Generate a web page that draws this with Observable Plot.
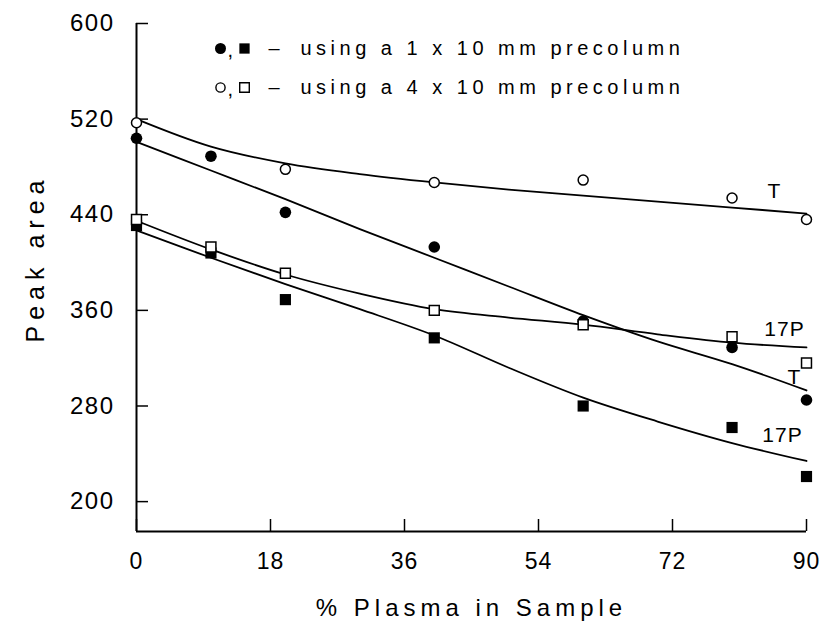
<!DOCTYPE html>
<html>
<head>
<meta charset="utf-8">
<script src="https://cdn.jsdelivr.net/npm/d3@7"></script>
<script src="https://cdn.jsdelivr.net/npm/@observablehq/plot@0.6"></script>
<style>
  html, body { margin: 0; padding: 0; background: #fff; }
  #chart { width: 820px; height: 630px; }
</style>
</head>
<body>
<div id="chart"></div>
<script>
// ---- data ----
const xPct = [0, 10, 20, 40, 60, 80, 90];                 // % plasma in sample
const t1mm  = [504, 489, 442, 413, 351, 329, 285];        // ● T, 1 x 10 mm precolumn
const t4mm  = [517, null, 478, 467, 469, 454, 436];       // ○ T, 4 x 10 mm precolumn
const p1mm  = [431, 408, 369, 337, 280, 262, 221];        // ■ 17P, 1 x 10 mm precolumn
const p4mm  = [436, 413, 391, 360, 348, 338, 316];        // □ 17P, 4 x 10 mm precolumn

// fitted curves
const xFit     = [0, 10, 20, 30, 40, 50, 60, 70, 80, 90];
const t1mmFit  = [501, 477, 453, 428, 404, 380, 356, 334, 315, 293];
const t4mmFit  = [520, 497, 483, 474, 467, 461, 456, 451, 446, 441];
const p1mmFit  = [427, 404, 382, 361, 339, 312, 287, 267, 249, 234];
const p4mmFit  = [435, 411, 390, 374, 361, 354, 348, 340, 333, 329];

const xTicks = [0, 18, 36, 54, 72, 90];
const yTicks = [200, 280, 360, 440, 520, 600];
const xDomain = [0, 90];
const yDomain = [175, 600];

const legendLabels = ["using a 1 x 10 mm precolumn", "using a 4 x 10 mm precolumn"];
const curveLabels = ["T", "17P", "T", "17P"];
const xTitle = "% Plasma in Sample";
const yTitle = "Peak area";

// ---- build tables ----
const pts = (ys) => xPct.map((x, i) => ({x, y: ys[i]})).filter(d => d.y != null);
const fit = (ys) => xFit.map((x, i) => ({x, y: ys[i]}));
const last = (ys) => [{x: xFit[xFit.length - 1], y: ys[ys.length - 1]}];

const FONT = "Liberation Sans, Arial, Helvetica, sans-serif";
const lineOpts = {x: "x", y: "y", stroke: "black", strokeWidth: 1.8, curve: "catmull-rom"};

const labelMark = (ys, text, dx, dy) =>
  Plot.text(last(ys), {x: "x", y: "y", text: () => text, dx, dy, fontSize: 21, fill: "black"});

const legendDot = (row, dx, opts) =>
  Plot.dot([row], {frameAnchor: "top-left", dx, dy: row === 0 ? 25 : 64, ...opts});

const legendText = (str, dx, dy) =>
  Plot.text([str], {frameAnchor: "top-left", text: d => d, dx, dy,
    textAnchor: "start", lineAnchor: "middle", fontSize: 20, fill: "black"});

const chart = Plot.plot({
  width: 820,
  height: 630,
  marginLeft: 136,
  marginRight: 14,
  marginTop: 23,
  marginBottom: 99,
  x: {domain: xDomain, label: null},
  y: {domain: yDomain, label: null},
  style: {fontFamily: FONT, background: "white", color: "black", overflow: "visible"},
  marks: [
    // axis lines
    Plot.ruleX([xDomain[0]], {stroke: "black", strokeWidth: 2}),
    Plot.ruleY([yDomain[0]], {stroke: "black", strokeWidth: 2.2}),
    // inward ticks
    Plot.axisX({ticks: xTicks, tickSize: -12, tickFormat: () => "", strokeWidth: 1.5, label: null}),
    Plot.axisY({ticks: yTicks, tickSize: -12, tickFormat: () => "", strokeWidth: 1.5, label: null}),
    // tick labels
    Plot.axisX({ticks: xTicks, tickSize: 0, tickPadding: 21, fontSize: 23, label: null}),
    Plot.axisY({ticks: yTicks, tickSize: 0, tickPadding: 22, fontSize: 24, label: null}),
    // titles
    Plot.text([xTitle], {frameAnchor: "bottom", lineAnchor: "middle", textAnchor: "middle",
      dy: 77, dx: 0, fontSize: 24, text: d => d, fill: "black"}),
    Plot.text([yTitle], {frameAnchor: "left", lineAnchor: "middle", textAnchor: "middle",
      dx: -101, dy: -19, rotate: -90, fontSize: 25, text: d => d, fill: "black"}),
    // fitted curves
    Plot.line(fit(t4mmFit), lineOpts),
    Plot.line(fit(t1mmFit), lineOpts),
    Plot.line(fit(p4mmFit), lineOpts),
    Plot.line(fit(p1mmFit), lineOpts),
    // data points
    Plot.dot(pts(t1mm), {x: "x", y: "y", r: 5.8, fill: "black"}),
    Plot.dot(pts(p1mm), {x: "x", y: "y", r: 6.3, symbol: "square", fill: "black"}),
    Plot.dot(pts(t4mm), {x: "x", y: "y", r: 5, fill: "white", stroke: "black", strokeWidth: 1.5}),
    Plot.dot(pts(p4mm), {x: "x", y: "y", r: 5.6, symbol: "square", fill: "white", stroke: "black", strokeWidth: 1.5}),
    // curve labels
    labelMark(t4mmFit, curveLabels[0], -32, -22),
    labelMark(p4mmFit, curveLabels[1], -22, -18),
    labelMark(t1mmFit, curveLabels[2], -12, -13),
    labelMark(p1mmFit, curveLabels[3], -24, -26),
    // legend
    legendDot(0, 84, {r: 5.5, fill: "black"}),
    legendDot(0, 108, {r: 5.8, symbol: "square", fill: "black"}),
    legendDot(1, 84, {r: 4.6, fill: "white", stroke: "black", strokeWidth: 1.4}),
    legendDot(1, 108, {r: 5.4, symbol: "square", fill: "white", stroke: "black", strokeWidth: 1.4}),
    legendText(legendLabels[0], 164, 25),
    legendText(legendLabels[1], 164, 64),
    legendText("–", 132, 25),
    legendText("–", 132, 64),
    legendText(",", 91, 27),
    legendText(",", 91, 66)
  ]
});
document.getElementById("chart").appendChild(chart);

// letter spacing (the reference's lettering is widely spaced)
const spacing = new Map([
  [xTitle, "5px"], [yTitle, "6px"],
  [legendLabels[0], "4.5px"], [legendLabels[1], "4.5px"],
  ["T", "1px"], ["17P", "1px"]
]);
yTicks.forEach(t => spacing.set(String(t), "1.5px"));
xTicks.forEach(t => spacing.set(String(t), "1px"));
d3.select(chart).selectAll("text").each(function() {
  const s = spacing.get(this.textContent);
  if (s) this.setAttribute("letter-spacing", s);
});
</script>
</body>
</html>
